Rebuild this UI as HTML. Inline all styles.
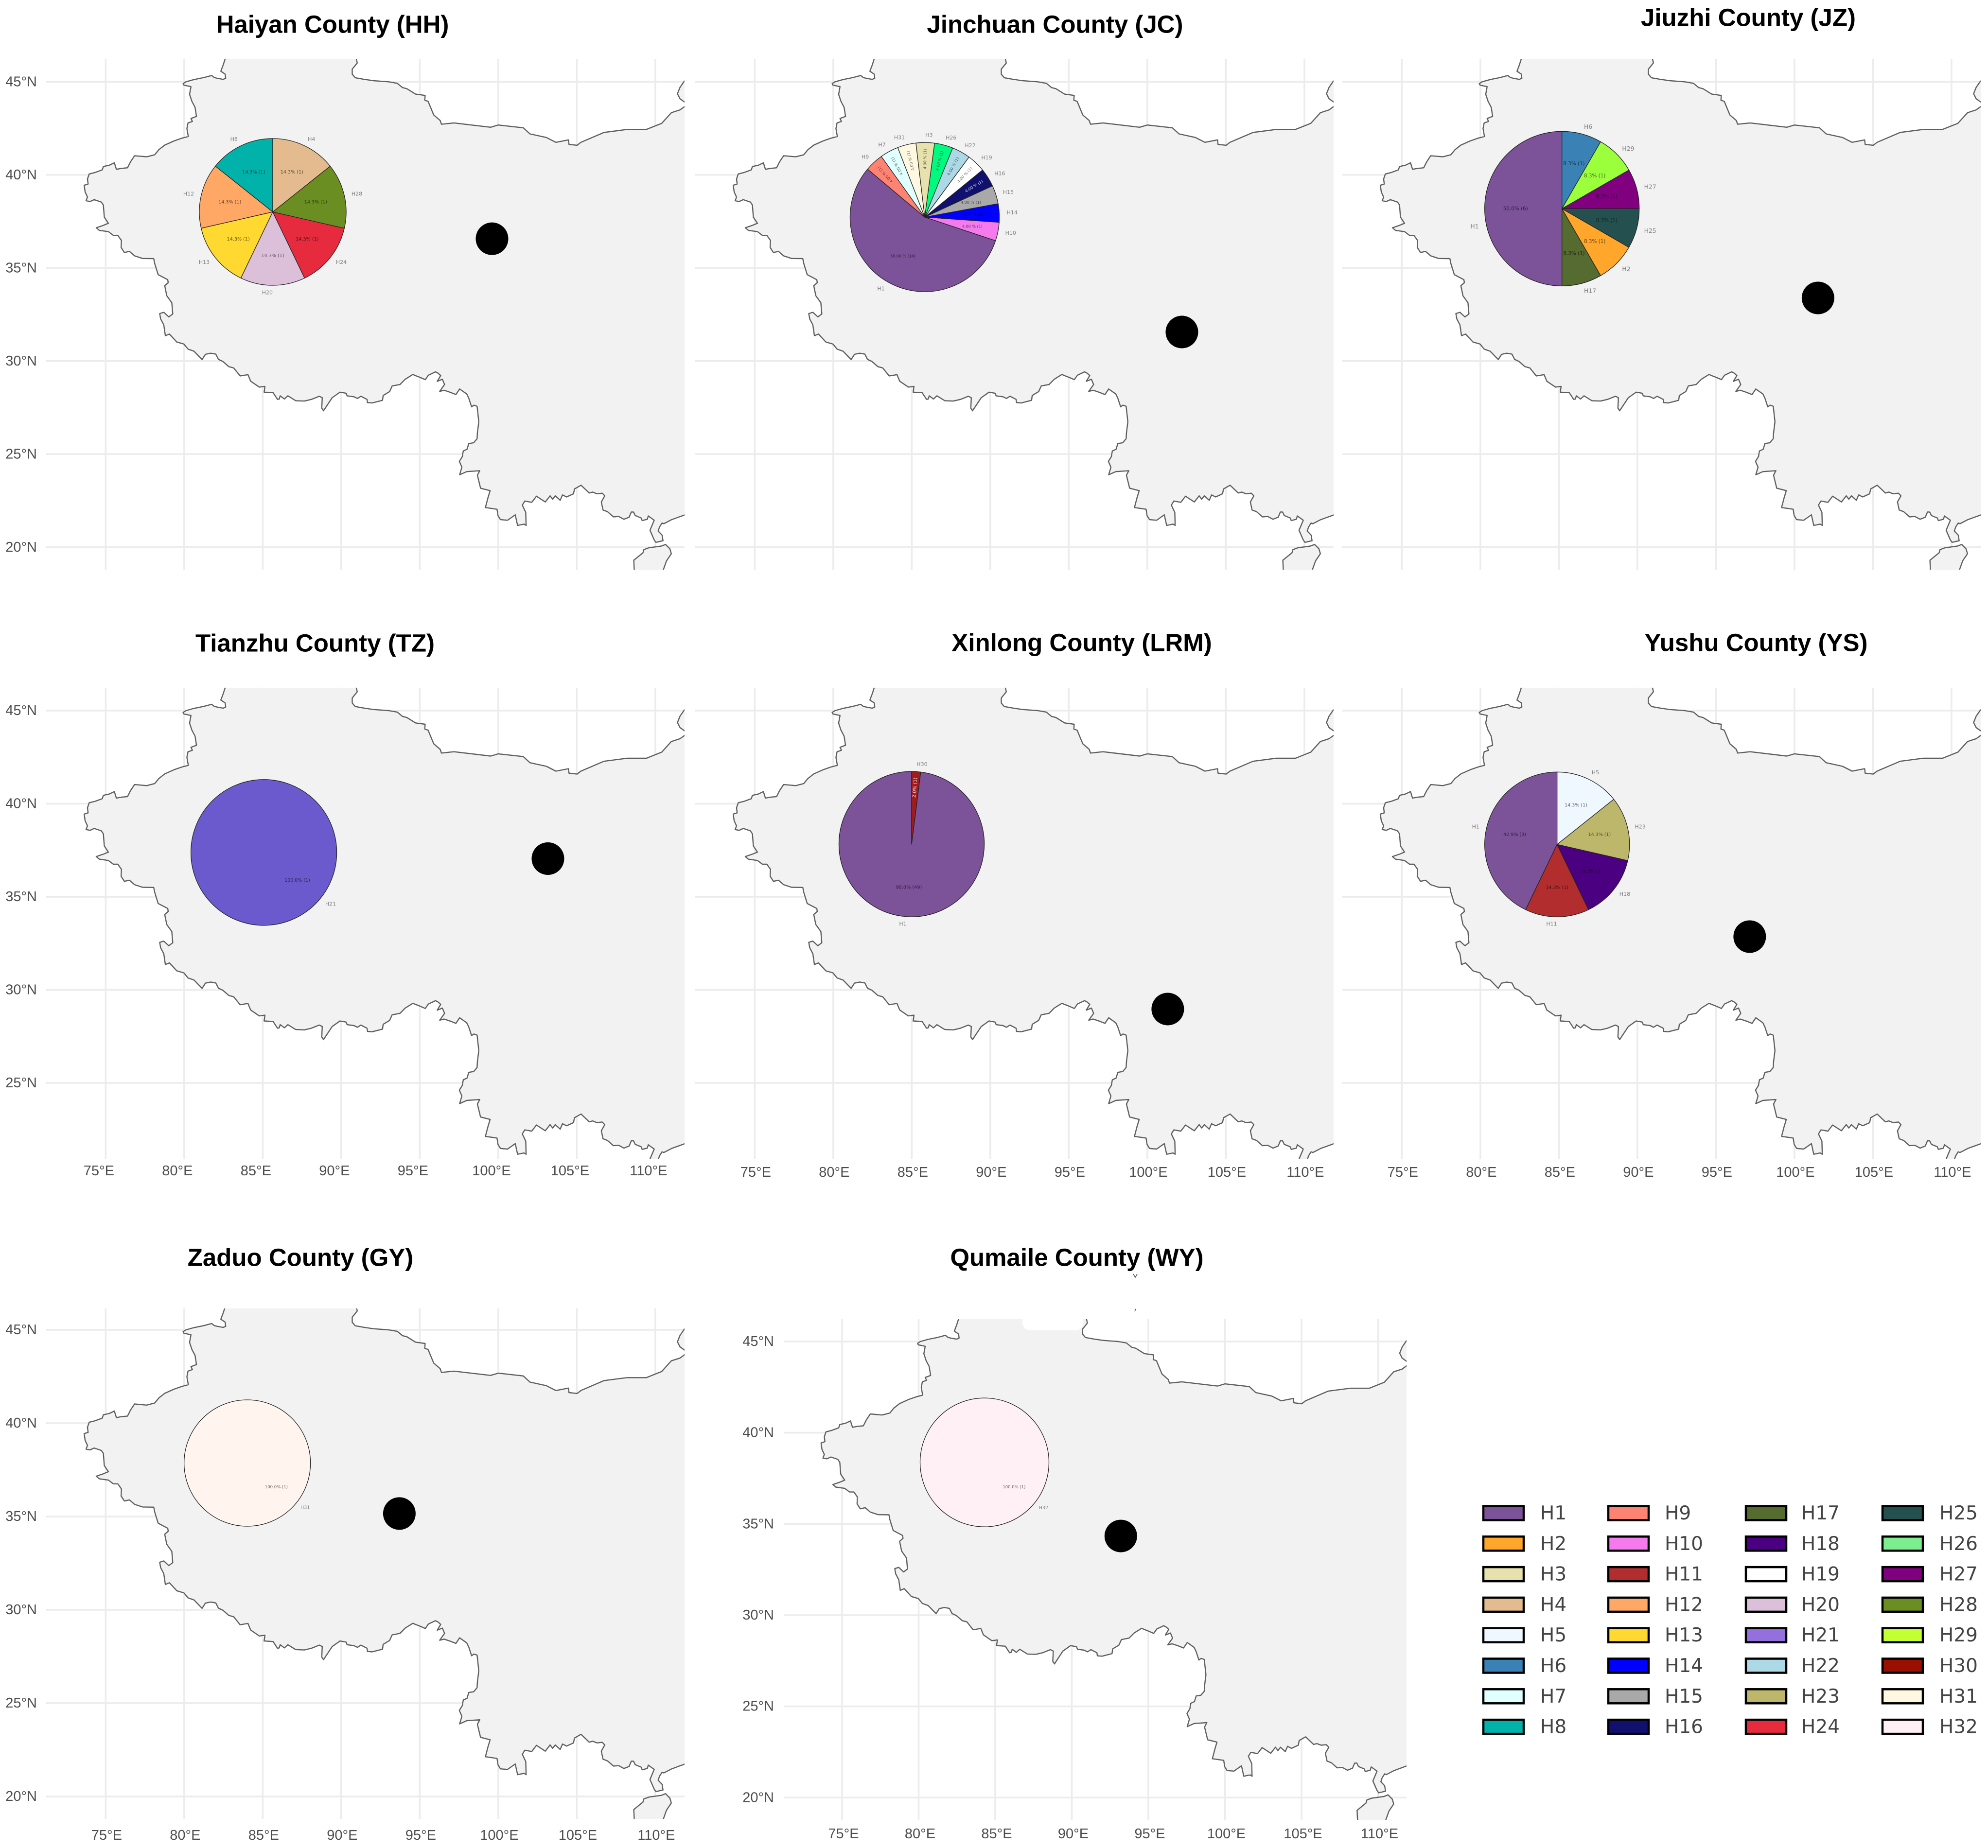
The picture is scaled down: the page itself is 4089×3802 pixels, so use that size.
<!DOCTYPE html>
<html lang="en">
<head>
<meta charset="utf-8">
<title>Haplotype distribution by county</title>
<style>
html,body{margin:0;padding:0;background:#fff;}
svg{display:block;}
</style>
</head>
<body>
<svg id="chart" xmlns="http://www.w3.org/2000/svg" width="4089" height="3802" viewBox="0 0 4089 3802"></svg>
<script>
// ---- geographic data (lon, lat) ----
const landOutline = [[82.61,47],[82.61,46.24],[82.48,45.90],[82.33,45.57],[82.61,45.41],[82.64,45.19],[82.48,45.13],[82.10,45.19],[81.91,45.23],[81.75,45.34],[81.26,45.23],[80.62,45.12],[80.11,45.00],[79.93,44.90],[79.98,44.82],[80.43,44.74],[80.34,44.33],[80.49,43.95],[80.69,43.63],[80.78,43.14],[80.43,43.03],[80.52,42.87],[80.24,42.79],[80.17,42.49],[80.26,42.06],[79.85,41.97],[79.34,41.82],[78.76,41.60],[78.38,41.35],[78.12,41.08],[77.61,40.97],[76.84,41.03],[76.58,40.70],[76.39,40.38],[76.00,40.35],[75.68,40.30],[75.55,40.65],[75.23,40.52],[74.85,40.45],[74.78,40.27],[74.33,40.13],[73.95,40.05],[73.84,39.78],[73.88,39.51],[73.63,39.44],[73.69,39.08],[73.84,38.81],[73.75,38.61],[74.01,38.57],[74.27,38.67],[74.72,38.54],[74.85,38.38],[74.91,37.73],[75.17,37.40],[74.85,37.29],[74.40,37.16],[74.59,37.02],[75.17,36.95],[75.49,36.75],[75.77,36.75],[76.00,36.48],[75.98,36.10],[76.19,35.83],[76.51,35.89],[76.84,35.65],[77.35,35.51],[78.06,35.50],[78.12,35.24],[78.34,34.64],[78.95,34.37],[78.98,34.21],[78.76,34.05],[78.89,33.51],[79.21,33.13],[79.27,32.53],[79.02,32.37],[78.70,32.62],[78.44,32.55],[78.50,32.26],[78.70,31.94],[78.80,31.36],[79.06,31.45],[79.53,31.02],[79.98,30.91],[80.24,30.64],[80.62,30.53],[81.14,30.08],[81.35,30.36],[81.68,30.42],[82.01,30.37],[82.18,30.09],[82.46,29.98],[82.84,29.70],[83.15,29.63],[83.56,29.20],[84.06,29.27],[84.23,28.92],[84.78,28.60],[85.14,28.64],[85.09,28.33],[85.66,28.30],[85.94,27.94],[86.05,27.96],[86.11,28.13],[86.38,27.96],[86.60,28.13],[87.10,27.87],[87.65,27.85],[88.10,27.94],[88.60,28.11],[88.79,28.03],[88.76,27.47],[88.87,27.33],[89.42,28.03],[89.92,28.33],[90.31,28.27],[90.37,28.13],[90.81,28.08],[91.03,27.99],[91.25,28.11],[91.64,27.94],[91.67,27.77],[91.97,27.75],[92.63,27.89],[92.67,28.15],[93.08,28.36],[93.24,28.66],[93.74,28.74],[94.07,29.02],[94.56,29.28],[94.72,29.22],[95.00,29.13],[95.35,29.00],[95.55,29.24],[96.00,29.42],[96.16,29.35],[96.33,29.22],[96.11,28.91],[96.44,29.02],[96.58,28.74],[96.27,28.37],[96.55,28.43],[96.94,28.32],[97.30,28.20],[97.54,28.50],[97.99,28.23],[98.12,28.00],[98.30,27.54],[98.45,27.63],[98.65,27.57],[98.76,26.74],[98.67,26.13],[98.65,25.83],[98.43,25.61],[98.12,25.57],[98.01,25.26],[97.77,25.17],[97.71,24.87],[97.52,24.61],[97.68,24.30],[97.54,23.89],[97.99,24.06],[98.82,24.11],[98.67,23.87],[98.87,23.17],[99.48,23.04],[99.34,22.65],[99.18,22.13],[99.92,22.04],[99.98,21.70],[100.14,21.48],[100.59,21.45],[101.08,21.74],[101.23,21.17],[101.64,21.24],[101.77,21.17],[101.75,21.87],[101.53,22.26],[101.69,22.48],[102.13,22.41],[102.43,22.74],[102.99,22.43],[103.30,22.76],[103.46,22.58],[103.63,22.76],[103.94,22.52],[104.09,22.81],[104.35,22.70],[104.79,22.87],[104.85,23.13],[105.27,23.33],[105.79,22.91],[106.01,22.96],[106.28,22.87],[106.62,22.90],[106.78,22.76],[106.56,22.43],[106.67,22.00],[106.95,21.91],[107.33,21.63],[107.67,21.65],[108.00,21.50],[108.33,21.61],[108.47,21.89],[108.61,21.89],[108.72,21.70],[109.10,21.57],[109.16,21.43],[109.49,21.50],[109.55,21.68],[109.93,21.45],[109.66,20.91],[109.93,20.39],[110.04,20.26],[110.49,20.35],[110.43,20.65],[110.18,20.87],[110.27,21.09],[110.43,21.30],[110.54,21.26],[111.04,21.48],[111.76,21.70],[113,22.1],[113,44],[111.88,43.68],[111.57,43.49],[111.02,43.34],[110.41,42.77],[109.43,42.44],[108.20,42.44],[106.73,42.28],[105.26,41.75],[105.02,41.59],[104.50,41.64],[104.47,41.88],[103.67,41.75],[103.06,42.01],[102.02,42.20],[101.59,42.53],[100.00,42.68],[99.51,42.56],[97.18,42.79],[96.38,42.72],[96.30,42.92],[95.89,43.22],[95.53,43.95],[95.32,44.01],[95.34,44.27],[94.73,44.34],[94.18,44.63],[93.90,44.69],[93.57,44.92],[93.02,45.00],[92.05,45.06],[91.41,45.14],[90.89,45.22],[90.70,45.41],[90.70,45.68],[91.02,46.01],[90.96,46.24],[90.96,47]];
const hainanOutline = [[108.66,18],[108.66,18.74],[108.63,19.30],[109.21,19.70],[109.27,19.87],[109.60,19.97],[110.38,20.06],[110.65,20.15],[110.93,19.91],[111.02,19.65],[110.71,19.26],[110.49,18.74],[110.3,18]];
const northeastOutline = [[113,45.6],[111.84,45.03],[111.57,44.70],[111.41,44.36],[111.57,44.09],[111.85,43.92],[113,43.8]];

// ---- chart data ----
const panelIds = ['haiyan','jinchuan','jiuzhi','tianzhu','xinlong','yushu','zaduo','qumaile'];
const panelTitles = ['Haiyan County (HH)','Jinchuan County (JC)','Jiuzhi County (JZ)','Tianzhu County (TZ)','Xinlong County (LRM)','Yushu County (YS)','Zaduo County (GY)','Qumaile County (WY)'];
const siteLon = [99.6,102.2,101.5,103.16,101.3,97.15,93.7,93.2];
const siteLat = [36.57,31.56,33.39,37.05,28.97,32.86,35.16,34.34];
const pieCategories = [
  ['H8','H12','H13','H20','H24','H28','H4'],
  ['H1','H10','H14','H15','H16','H19','H22','H26','H3','H31','H7','H9'],
  ['H1','H17','H2','H25','H27','H29','H6'],
  ['H21'],
  ['H1','H30'],
  ['H1','H11','H18','H23','H5'],
  ['H31'],
  ['H32']
];
const pieCounts = [
  [1,1,1,1,1,1,1],
  [14,1,1,1,1,1,1,1,1,1,1,1],
  [6,1,1,1,1,1,1],
  [1],
  [49,1],
  [3,1,1,1,1],
  [1],
  [1]
];
const pieStartAngles = [90,140,90,140,90,90,140,140];
const lonTicks = [75,80,85,90,95,100,105,110];
const lonTickLabels = ['75°E','80°E','85°E','90°E','95°E','100°E','105°E','110°E'];
const latTicks = [45,40,35,30,25,20];
const latTickLabels = ['45°N','40°N','35°N','30°N','25°N','20°N'];
const legendCategories = ['H1','H2','H3','H4','H5','H6','H7','H8','H9','H10','H11','H12','H13','H14','H15','H16','H17','H18','H19','H20','H21','H22','H23','H24','H25','H26','H27','H28','H29','H30','H31','H32'];

// ---- styles and layout ----
const legendColors = {H1:'#7c5299',H2:'#ffa62b',H3:'#e6e1ad',H4:'#e3bb8e',H5:'#f0f8ff',H6:'#3a82b5',H7:'#e0ffff',H8:'#00b2a9',H9:'#ff8373',H10:'#f47aee',H11:'#b22d2d',H12:'#ffa866',H13:'#ffd930',H14:'#0000ff',H15:'#a9a9a9',H16:'#10106e',H17:'#556b2f',H18:'#4b0082',H19:'#ffffff',H20:'#dcc0da',H21:'#9370db',H22:'#add8e6',H23:'#bdb76b',H24:'#e62b3f',H25:'#255050',H26:'#7cee90',H27:'#800080',H28:'#6b8e23',H29:'#c2ff33',H30:'#990f00',H31:'#fff8e1',H32:'#fff0f5'};
const pieColorOverrides = {H21:'#6a5acd',H26:'#00fa7f',H29:'#9cff3c',H30:'#a01c1c'};
const frames = [
  {kx:32.3,x75:217.4,y45:168.3,ky:38.3,top:46.23,bottom:18.79,tx:684,ty:50,  cx:561, cy:436, r:151,  ls:11,  ps:9.6, yLabelX:76, xLabelY:null},
  {kx:32.3,x75:1552.4,y45:168.3,ky:38.3,top:46.23,bottom:18.79,tx:2170,ty:50, cx:1902,cy:446.7,r:153.5,ls:11, ps:8,   yLabelX:null, xLabelY:null, radial:true, decimals:2, gap:' '},
  {kx:32.3,x75:2883.4,y45:168.3,ky:38.3,top:46.23,bottom:18.79,tx:3596,ty:36, cx:3212.7,cy:429.3,r:159,ls:12.4,ps:10.4,yLabelX:null, xLabelY:null, labelAngles:{H1:192}},
  {kx:32.3,x75:217.4,y45:1462,ky:38.3,top:46.23,bottom:20.9,tx:648,ty:1323,  cx:542.6,cy:1753.8,r:150,ls:11, ps:9.5, yLabelX:76,  xLabelY:2409, xShift:-14},
  {kx:32.3,x75:1552.4,y45:1462,ky:38.3,top:46.23,bottom:20.9,tx:2225,ty:1322,cx:1875,cy:1736.7,r:149.5,ls:11, ps:9.7, yLabelX:null,xLabelY:2412, xShift:2, radial:true},
  {kx:32.3,x75:2883.4,y45:1462,ky:38.3,top:46.23,bottom:20.9,tx:3612,ty:1322,cx:3202.7,cy:1737.3,r:149,ls:11,ps:9.5, yLabelX:null,xLabelY:2412, xShift:2},
  {kx:32.3,x75:217.4,y45:2736,ky:38.4,top:46.15,bottom:18.8,tx:618,ty:2587,  cx:508.6,cy:3010,r:130,ls:9.5,ps:8.5,  yLabelX:76,  xLabelY:3776, xShift:2, fillOverride:'#fff5ee'},
  {kx:31.5,x75:1732,y45:2760,ky:37.53,top:46.23,bottom:18.78,tx:2215,ty:2587,cx:2025,cy:3008.7,r:132.5,ls:9.5,ps:8.5,yLabelX:1592,xLabelY:3773, xShift:3, notch:true}
];
const SANS = '"Liberation Sans", Arial, sans-serif';
const DEJAVU = '"DejaVu Sans", sans-serif';
const NS = 'http://www.w3.org/2000/svg';
const root = document.getElementById('chart');

function make(tag, parent, attrs, text) {
  const node = document.createElementNS(NS, tag);
  for (const key in attrs) node.setAttribute(key, attrs[key]);
  if (text !== undefined) node.textContent = text;
  parent.appendChild(node);
  return node;
}
function xScale(frame, lon) { return frame.x75 + (lon - 75) * frame.kx; }
function yScale(frame, lat) { return frame.y45 + (45 - lat) * frame.ky; }
function geoPath(frame, pts) {
  return 'M' + pts.map(function (p) {
    return xScale(frame, p[0]).toFixed(1) + ' ' + yScale(frame, p[1]).toFixed(1);
  }).join('L') + 'Z';
}
function polar(cx, cy, r, deg) {
  const a = deg * Math.PI / 180;
  return [cx + r * Math.cos(a), cy - r * Math.sin(a)];
}
function pctText(count, total, frame) {
  const d = frame.decimals === undefined ? 1 : frame.decimals;
  const gap = frame.gap || '';
  return (count / total * 100).toFixed(d) + gap + '% (' + count + ')';
}

const defs = make('defs', root, {});

frames.forEach(function (f, i) {
  const id = panelIds[i];
  const panel = make('g', root, {});
  
  

  const left = xScale(f, 71.21), right = xScale(f, 111.86);
  const top = yScale(f, f.top), bottom = yScale(f, f.bottom);
  const clip = make('clipPath', defs, {id: 'clip-' + id});
  make('rect', clip, {x: left, y: top, width: right - left, height: bottom - top});

  // title
  const title = make('text', panel, {x: f.tx, y: f.ty, 'text-anchor': 'middle', 'dominant-baseline': 'central', 'font-family': SANS, 'font-weight': 'bold', 'font-size': 51, fill: '#000'}, panelTitles[i]);
  
  

  // gridlines
  const grid = make('g', panel, {stroke: '#ececec', 'stroke-width': 3.5, fill: 'none'});
  
  
  lonTicks.forEach(function (lon) {
    const line = make('line', grid, {x1: xScale(f, lon), x2: xScale(f, lon), y1: top, y2: bottom});
    
    
  });
  latTicks.forEach(function (lat) {
    if (lat < f.bottom) return;
    const line = make('line', grid, {x1: left, x2: right, y1: yScale(f, lat), y2: yScale(f, lat)});
    
    
  });

  // land
  const land = make('g', panel, {'clip-path': 'url(#clip-' + id + ')', fill: '#f2f2f2', stroke: '#5e5e5e', 'stroke-width': 2.4, 'stroke-linejoin': 'round'});
  
  
  const mainland = make('path', land, {d: geoPath(f, landOutline)});
  
  
  const hainan = make('path', land, {d: geoPath(f, hainanOutline)});
  
  
  const northeast = make('path', land, {d: geoPath(f, northeastOutline)});
  
  

  if (f.notch) {
    const notch = make('rect', panel, {x: 2103, y: 2700, width: 125, height: 37, rx: 16, fill: '#fff'});
    
    
    const stray = make('path', panel, {d: 'M2331 2621l4 7l4-7M2336 2693l-2 5', fill: 'none', stroke: '#555', 'stroke-width': 1.6});
    
    
  }

  // y tick labels
  if (f.yLabelX !== null) {
    latTicks.forEach(function (lat, t) {
      if (lat < f.bottom) return;
      const label = make('text', panel, {x: f.yLabelX, y: yScale(f, lat), 'text-anchor': 'end', 'dominant-baseline': 'central', 'font-family': SANS, 'font-size': 29, fill: '#4d4d4d'}, latTickLabels[t]);
      
      
    });
  }
  // x tick labels
  if (f.xLabelY !== null) {
    lonTicks.forEach(function (lon, t) {
      const label = make('text', panel, {x: xScale(f, lon) + f.xShift, y: f.xLabelY, 'text-anchor': 'middle', 'dominant-baseline': 'central', 'font-family': SANS, 'font-size': 29, fill: '#4d4d4d'}, lonTickLabels[t]);
      
      
    });
  }

  // pie
  const pie = make('g', panel, {});
  
  
  const cats = pieCategories[i], counts = pieCounts[i];
  const total = counts.reduce(function (a, b) { return a + b; }, 0);
  let angle = pieStartAngles[i];
  const labelLayer = [];
  cats.forEach(function (cat, k) {
    const sweep = counts[k] / total * 360;
    const mid = angle + sweep / 2;
    const fill = f.fillOverride || pieColorOverrides[cat] || legendColors[cat];
    const wedgeAttrs = {fill: fill, stroke: '#222', 'stroke-width': 1.3, 'stroke-linejoin': 'round'};
    let wedge;
    if (sweep >= 359.99) {
      wedgeAttrs.cx = f.cx; wedgeAttrs.cy = f.cy; wedgeAttrs.r = f.r;
      wedge = make('circle', pie, wedgeAttrs);
    } else {
      const a = polar(f.cx, f.cy, f.r, angle), b = polar(f.cx, f.cy, f.r, angle + sweep);
      wedgeAttrs.d = 'M' + f.cx + ' ' + f.cy + 'L' + a[0].toFixed(2) + ' ' + a[1].toFixed(2) + 'A' + f.r + ' ' + f.r + ' 0 ' + (sweep > 180 ? 1 : 0) + ' 0 ' + b[0].toFixed(2) + ' ' + b[1].toFixed(2) + 'Z';
      wedge = make('path', pie, wedgeAttrs);
    }
    
    
    labelLayer.push({cat: cat, count: counts[k], mid: mid, sweep: sweep});
    angle += sweep;
  });
  labelLayer.forEach(function (s) {
    const labelAngle = (f.labelAngles && f.labelAngles[s.cat]) || s.mid;
    const lp = polar(f.cx, f.cy, f.r * 1.1, labelAngle);
    const cosine = Math.cos(labelAngle * Math.PI / 180);
    const sliceLabel = make('text', pie, {x: lp[0].toFixed(1), y: lp[1].toFixed(1), 'text-anchor': cosine >= 0 ? 'start' : 'end', 'dominant-baseline': 'central', 'font-family': DEJAVU, 'font-size': f.ls, fill: '#808080'}, s.cat);
    
    

    const norm = ((s.mid % 360) + 360) % 360;
    const rot = f.radial && s.sweep < 20 && norm > 25 && norm < 160;
    const smallFlat = f.radial && s.sweep < 20 && !rot;
    const dist = rot ? 0.78 : (smallFlat ? 0.65 : 0.6);
    const pp = polar(f.cx, f.cy, f.r * dist, s.mid);
    const light = s.cat === 'H16' || s.cat === 'H30';
    const pctAttrs = {x: pp[0].toFixed(1), y: pp[1].toFixed(1), 'text-anchor': 'middle', 'dominant-baseline': 'central', 'font-family': DEJAVU, 'font-size': f.ps, fill: light ? '#f0eef8' : '#000', 'fill-opacity': light ? 0.9 : 0.6};
    if (rot) pctAttrs.transform = 'rotate(' + (-norm).toFixed(1) + ' ' + pp[0].toFixed(1) + ' ' + pp[1].toFixed(1) + ')';
    const pctLabel = make('text', pie, pctAttrs, pctText(s.count, total, f));
    
    
  });

  // sampling site
  const site = make('circle', panel, {cx: xScale(f, siteLon[i]), cy: yScale(f, siteLat[i]), r: 33.5, fill: '#000'});
  
  
});

// legend
const legend = make('g', root, {});


const swatchX = [3051, 3308, 3591, 3872];
const labelX = [3168, 3424, 3705, 3989];
legendCategories.forEach(function (cat, n) {
  const col = Math.floor(n / 8), row = n % 8;
  const rowY = 3098.5 + row * 62.8;
  const entry = make('g', legend, {});
  
  
  const swatch = make('rect', entry, {x: swatchX[col], y: rowY, width: 83, height: 29, fill: legendColors[cat], stroke: '#000', 'stroke-width': 4.5});
  
  
  const label = make('text', entry, {x: labelX[col], y: rowY + 15, 'dominant-baseline': 'central', 'font-family': DEJAVU, 'font-size': 39, fill: '#444'}, cat);
  
  
});
</script>
</body>
</html>
